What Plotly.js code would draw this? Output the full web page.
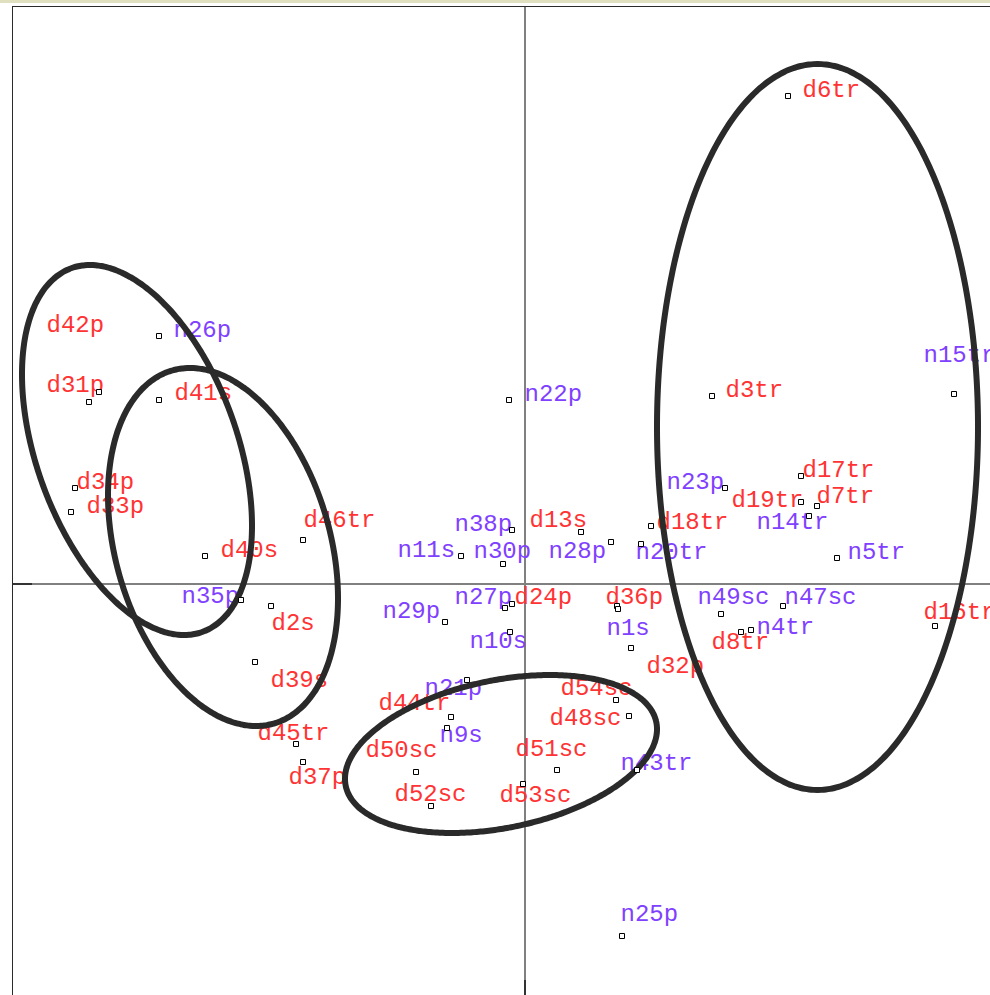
<!DOCTYPE html>
<html>
<head>
<meta charset="utf-8">
<script src="https://cdn.plot.ly/plotly-3.0.1.min.js"></script>
<style>html,body{margin:0;padding:0;background:#fff;}#chart{width:990px;height:995px;}</style>
</head>
<body>
<div id="chart"></div>
<script>
// ---- data (factorial map coordinates) ----
const names = ["d6tr","d42p","n26p","d31p","d41s","d34p","d33p","d40s","d46tr","n35p",
  "d2s","d39s","d45tr","d37p","n11s","n38p","n30p","d13s","n28p","n20tr",
  "d18tr","n23p","d19tr","d17tr","d7tr","n14tr","n5tr","n15tr","d3tr","n22p",
  "n29p","n27p","d24p","d36p","n1s","d32p","n10s","n49sc","n47sc","d8tr",
  "n4tr","d16tr","n21p","d44tr","n9s","d50sc","d52sc","d53sc","d51sc","d54sc",
  "d48sc","n43tr","n25p"];
const pointX = [2.63,-4.26,-3.66,-4.36,-3.66,-4.50,-4.54,-3.20,-2.22,-2.84,
  -2.54,-2.70,-2.29,-2.22,-0.64,-0.13,-0.22,0.56,0.86,1.16,
  1.26,2.00,2.76,2.76,2.92,2.84,3.12,4.29,1.87,-0.16,
  -0.80,-0.20,-0.13,0.92,0.93,1.06,-0.15,1.96,2.58,2.16,
  2.26,4.10,-0.58,-0.74,-0.78,-1.09,-0.94,-0.02,0.32,0.91,
  1.04,1.12,0.97];
const pointY = [4.88,1.92,2.48,1.82,1.84,0.96,0.72,0.28,0.44,-0.16,
  -0.22,-0.78,-1.60,-1.78,0.28,0.54,0.20,0.52,0.42,0.40,
  0.58,0.96,0.82,1.08,0.78,0.68,0.26,1.90,1.88,1.84,
  -0.38,-0.24,-0.20,-0.22,-0.25,-0.64,-0.48,-0.30,-0.22,-0.48,
  -0.46,-0.42,-0.96,-1.33,-1.44,-1.88,-2.22,-2.00,-1.86,-1.16,
  -1.32,-1.86,-3.52];
const labelX = [2.775,-4.785,-3.515,-4.785,-3.505,-4.485,-4.385,-3.045,-2.215,-3.435,
  -2.535,-2.545,-2.675,-2.365,-1.275,-0.705,-0.515,0.045,0.235,1.105,
  1.315,1.415,2.065,2.775,2.915,2.315,3.225,3.985,2.005,-0.005,
  -1.425,-0.705,-0.105,0.805,0.815,1.215,-0.555,1.725,2.595,1.865,
  2.315,3.985,-1.005,-1.465,-0.855,-1.595,-1.305,-0.255,-0.095,0.355,
  0.245,0.955,0.955];
const labelY = [4.93,2.58,2.53,1.98,1.90,1.01,0.77,0.33,0.63,-0.13,
  -0.40,-0.97,-1.50,-1.94,0.33,0.59,0.32,0.63,0.32,0.31,
  0.61,1.01,0.83,1.13,0.87,0.61,0.31,2.28,1.93,1.89,
  -0.28,-0.14,-0.14,-0.14,-0.45,-0.83,-0.58,-0.14,-0.14,-0.59,
  -0.44,-0.29,-1.05,-1.20,-1.52,-1.67,-2.11,-2.12,-1.66,-1.05,
  -1.35,-1.80,-3.31];
// group ellipses: centre, half-extent in x and y, correlation
const ellCx  = [-3.88, -3.02, -0.24, 2.925];
const ellCy  = [ 1.34,  0.37, -1.70, 1.57];
const ellSx  = [ 1.15,  1.15,  1.56, 1.605];
const ellSy  = [ 1.85,  1.79,  0.79, 3.63];
const ellRho = [-0.409, -0.287, 0.314, 0];

// ---- styles ----
const RED = "#ff3333", PURPLE = "#8040ff";
const labelColors = names.map(n => n.charAt(0) === "d" ? RED : PURPLE);

const traces = [];
traces.push({
  type: "scatter", mode: "text", x: labelX, y: labelY, text: names,
  textposition: "middle right",
  textfont: {family: "Liberation Mono, Courier New, monospace", size: 24, color: labelColors},
  hoverinfo: "skip", cliponaxis: false
});
for (let k = 0; k < ellCx.length; k++) {
  const ex = [], ey = [];
  const q = Math.sqrt(1 - ellRho[k] * ellRho[k]);
  for (let i = 0; i <= 240; i++) {
    const t = 2 * Math.PI * i / 240;
    ex.push(ellCx[k] + ellSx[k] * Math.cos(t));
    ey.push(ellCy[k] + ellSy[k] * (ellRho[k] * Math.cos(t) + q * Math.sin(t)));
  }
  traces.push({type: "scatter", mode: "lines", x: ex, y: ey,
    line: {color: "#2a2a2a", width: 6, shape: "spline", smoothing: 0.6}, hoverinfo: "skip"});
}
traces.push({
  type: "scatter", mode: "markers", x: pointX, y: pointY,
  marker: {symbol: "square", size: 5, color: "#ffffff", line: {color: "#000000", width: 1}},
  hoverinfo: "skip"
});

const H = 995, T = 7, L = 13;
const layout = {
  width: 990, height: 995,
  margin: {l: L, r: 0, t: T, b: 0, pad: 0},
  paper_bgcolor: "#ffffff", plot_bgcolor: "#ffffff",
  showlegend: false, hovermode: false,
  xaxis: {range: [-5.12, 4.65], showgrid: false, zeroline: true, zerolinecolor: "#808080", zerolinewidth: 1.5,
    showline: true, mirror: true, linecolor: "#2a2a2a", linewidth: 1.5,
    ticks: "inside", tickvals: [0], ticklen: 15, tickwidth: 2, tickcolor: "#333333", showticklabels: false},
  yaxis: {range: [-4.11, 5.77], showgrid: false, zeroline: true, zerolinecolor: "#808080", zerolinewidth: 1.5,
    showline: true, mirror: true, linecolor: "#2a2a2a", linewidth: 1.5,
    ticks: "inside", tickvals: [0], ticklen: 19, tickwidth: 2, tickcolor: "#333333", showticklabels: false},
  shapes: [{type: "rect", xref: "paper", yref: "paper",
    x0: -L / 977, x1: 1, y0: 1 + 4 / 988, y1: 1 + 7.5 / 988,
    fillcolor: "#e0dfc0", line: {width: 0}, layer: "below"}]
};
Plotly.newPlot("chart", traces, layout, {staticPlot: true, displayModeBar: false});
</script>
</body>
</html>
